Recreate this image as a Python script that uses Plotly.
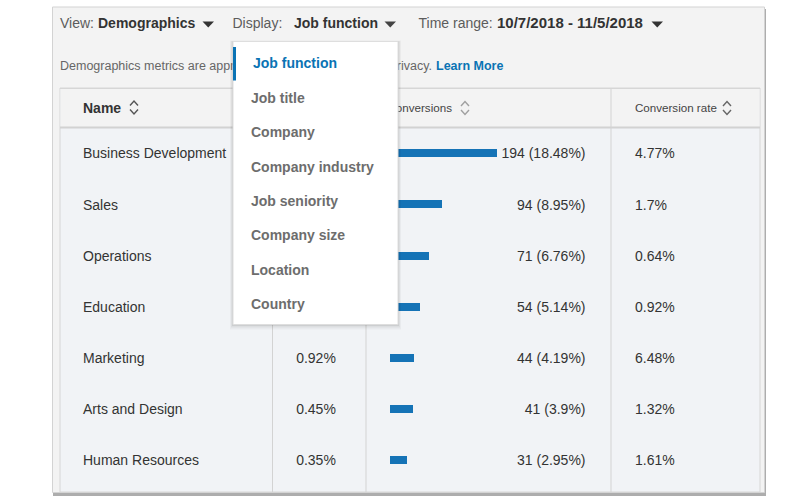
import plotly.graph_objects as go

# ---------------- data ----------------
names = ["Business Development", "Sales", "Operations", "Education",
         "Marketing", "Arts and Design", "Human Resources"]
share_pct = [None, None, None, None, 0.92, 0.45, 0.35]   # first four hidden by the open menu
conversions = [194, 94, 71, 54, 44, 41, 31]
conv_share = [18.48, 8.95, 6.76, 5.14, 4.19, 3.9, 2.95]
conv_rate = [4.77, 1.7, 0.64, 0.92, 6.48, 1.32, 1.61]
display_options = ["Job function", "Job title", "Company", "Company industry",
                   "Job seniority", "Company size", "Location", "Country"]
view_value = "Demographics"
display_value = "Job function"
time_range = "10/7/2018 - 11/5/2018"
info_left = "Demographics metrics are approximate to protect member"
info_right = "privacy."
info_link = "Learn More"
col_headers = ["Name", "Conversions", "Conversion rate"]

# ---------------- style / layout ----------------
W, H = 809, 500
FONT = "Liberation Sans, Arial, sans-serif"
DARK = "#333333"
MID = "#5c5c5c"
BLUE = "#0a73b4"
TDY = 1.6  # small vertical nudge for text baselines
ROW0, ROW_H = 153.3, 51.15
BAR_X0, BAR_X1, PX_PER_UNIT = 389.5, 600, 0.55
row_y = [ROW0 + i * ROW_H for i in range(len(names))]

fig = go.Figure()

def text_trace(xs, ys, texts, pos, size, color, weight="normal"):
    fig.add_trace(go.Scatter(
        x=xs, y=[y + TDY for y in ys], text=texts, mode="text", textposition=pos,
        textfont=dict(family=FONT, size=size, color=color, weight=weight),
        hoverinfo="skip", showlegend=False, cliponaxis=False,
        xaxis="x", yaxis="y"))

shapes = []
def rect(x0, y0, x1, y1, fill, line=None, lw=1, layer="below"):
    shapes.append(dict(type="rect", xref="x", yref="y", x0=x0, y0=y0, x1=x1, y1=y1,
                       fillcolor=fill, layer=layer,
                       line=dict(color=line or fill, width=lw if line else 0)))

def vline(x, y0, y1, color, w=1, layer="below"):
    shapes.append(dict(type="line", xref="x", yref="y", x0=x, x1=x, y0=y0, y1=y1,
                       line=dict(color=color, width=w), layer=layer))

def hline(y, x0, x1, color, w=1, layer="below"):
    shapes.append(dict(type="line", xref="x", yref="y", x0=x0, x1=x1, y0=y, y1=y,
                       line=dict(color=color, width=w), layer=layer))

def triangle(x0, x1, y0, y1, color):
    xm = (x0 + x1) / 2
    shapes.append(dict(type="path", xref="x", yref="y",
                       path=f"M {x0},{y0} L {x1},{y0} L {xm},{y1} Z",
                       fillcolor=color, line=dict(width=0), layer="below"))

def sort_icon(cx, cy, color):
    for s in (-1, 1):
        shapes.append(dict(type="path", xref="x", yref="y",
                           path=f"M {cx-4},{cy+s*2} L {cx},{cy+s*6.5} L {cx+4},{cy+s*2}",
                           line=dict(color=color, width=1.4), layer="below"))

# panel with shadow
rect(53, 9, 766, 496, "#adadad")
rect(52.5, 7, 764.5, 492.5, "#f3f3f3", line="#d3d3d3")
# table
rect(60, 88, 760, 492, "#f1f3f6", line="#d6d6d6")
rect(60.5, 88.5, 759.5, 127, "#f3f3f3")
hline(127.5, 60, 760, "#d2d2d2", 2)
vline(272.5, 127, 492, "#d3d3d3")
vline(366, 127, 492, "#d3d3d3")
vline(611, 88, 492, "#d3d3d3")
hline(88.5, 60, 760, "#d6d6d6")

# header controls
text_trace([60], [23], ["View:"], "middle right", 14, MID)
text_trace([98], [23], [view_value], "middle right", 14, DARK, "bold")
triangle(202.5, 214, 21.5, 27.5, DARK)
text_trace([232.5], [23], ["Display:"], "middle right", 14, MID)
text_trace([294], [23], [display_value], "middle right", 14, DARK, "bold")
triangle(384.5, 396, 21.5, 27.5, "#444444")
text_trace([418.5], [23], ["Time range:"], "middle right", 14, MID)
text_trace([497], [23], [time_range], "middle right", 15, DARK, "bold")
triangle(651.5, 663, 21.5, 27.5, DARK)

# info line
text_trace([60], [65], [info_left], "middle right", 12.5, "#666666")
text_trace([432], [65], [info_right], "middle left", 12.5, "#666666")
text_trace([436], [65], [info_link], "middle right", 12.5, BLUE, "bold")

# column headers
text_trace([83], [107.5], [col_headers[0]], "middle right", 14, DARK, "bold")
sort_icon(134, 107.5, "#555555")
text_trace([387.5], [108], [col_headers[1]], "middle right", 11.6, "#444444")
sort_icon(465, 108, "#a0a0a0")
text_trace([635], [108], [col_headers[2]], "middle right", 11.6, "#444444")
sort_icon(727, 108, "#666666")

# rows
text_trace([83] * len(names), row_y, names, "middle right", 14, DARK)
sy = [y for y, v in zip(row_y, share_pct) if v is not None]
st = [f"{v:.2f}%" for v in share_pct if v is not None]
text_trace([316] * len(st), sy, st, "middle center", 14, DARK)
text_trace([585.5] * len(names), row_y,
           [f"{c} ({s:g}%)" for c, s in zip(conversions, conv_share)],
           "middle left", 14, DARK)
text_trace([635] * len(names), row_y, [f"{r:g}%" for r in conv_rate],
           "middle right", 14, DARK)

# conversion bars
fig.add_trace(go.Bar(
    x=conversions, y=row_y, orientation="h", width=8, base=0,
    marker=dict(color="#1573b6", line=dict(width=0)),
    xaxis="x2", yaxis="y", hoverinfo="skip", showlegend=False))

# open dropdown menu (drawn above)
dx0, dy0, dx1, dy1 = 233, 41.5, 398, 324.5
rect(dx0 - 3, dy0 - 1, dx1 + 3, dy1 + 5, "rgba(0,0,0,0.035)", layer="above")
rect(dx0 - 2, dy0 - 0.5, dx1 + 2, dy1 + 3, "rgba(0,0,0,0.05)", layer="above")
rect(dx0 - 1, dy0, dx1 + 1, dy1 + 1.5, "rgba(0,0,0,0.07)", layer="above")
rect(dx0, dy0, dx1, dy1, "#ffffff", line="#dedede", layer="above")
rect(233, 47, 236, 80.5, BLUE, layer="above")

annotations = []
for i, opt in enumerate(display_options):
    sel = opt == display_value
    annotations.append(dict(
        x=252 if sel else 250, y=63.2 + i * 34.45, xref="x", yref="y",
        text=opt, showarrow=False, xanchor="left", yanchor="middle",
        borderpad=0,
        font=dict(family=FONT, size=14, color=BLUE if sel else "#6d6d6d", weight="bold")))

fig.update_layout(
    width=W, height=H, margin=dict(l=0, r=0, t=0, b=0),
    paper_bgcolor="#ffffff", plot_bgcolor="rgba(0,0,0,0)",
    showlegend=False, shapes=shapes, annotations=annotations,
    xaxis=dict(range=[0, W], domain=[0, 1], visible=False, fixedrange=True),
    yaxis=dict(range=[H, 0], domain=[0, 1], visible=False, fixedrange=True),
    xaxis2=dict(domain=[BAR_X0 / W, BAR_X1 / W], range=[0, (BAR_X1 - BAR_X0) / PX_PER_UNIT],
                anchor="y", visible=False, fixedrange=True),
    bargap=0,
)

fig.write_html("out.html", config={"displayModeBar": False},
               post_script="document.body.style.margin='0';document.body.style.overflow='hidden';")
